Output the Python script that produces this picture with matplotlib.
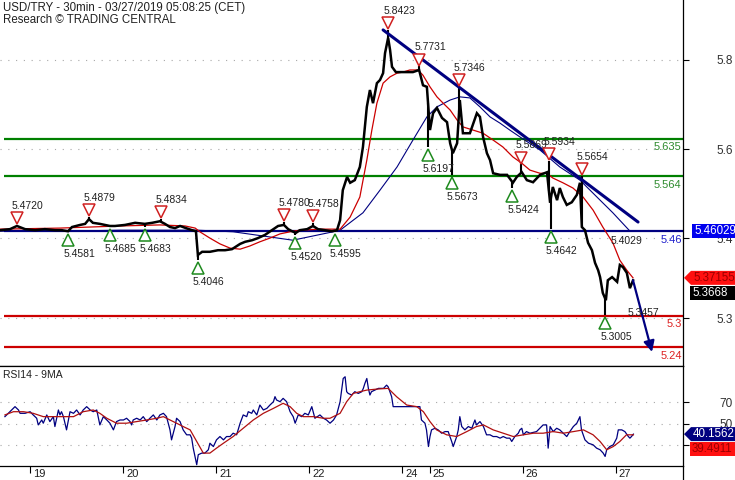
import numpy as np
import matplotlib
matplotlib.use('Agg')
import matplotlib.pyplot as plt
from matplotlib.patches import Polygon
from matplotlib.lines import Line2D
from matplotlib.transforms import blended_transform_factory, offset_copy

plt.rcParams['font.family'] = ['Liberation Sans', 'DejaVu Sans']

# ---------------- data ----------------
# time axis: trading hours since 19 Mar 00:00 (weekend removed)
day_hours = [0, 24, 48, 72, 96, 103, 127, 151]
day_labels = ['19', '20', '21', '22', '24', '25', '26', '27']

price_t = [-7.9, -5.3, -3.5, -1.4, 1.2, 3.7, 6.3, 8.1, 9.7, 10.7,
           12.8, 14.1, 15.1, 16.1, 17.9, 20.5, 21.8, 24.4, 27.0, 29.5,
           31.4, 33.4, 34.7, 36.0, 37.3, 38.6, 40.1, 41.7, 42.7, 43.2,
           44.3, 46.3, 48.4, 50.2, 52.0, 54.1, 55.4, 57.2, 58.7, 60.5,
           62.3, 63.9, 65.4, 66.5, 67.5, 68.5, 69.5, 71.4, 72.9, 74.2,
           76.0, 77.8, 79.1, 79.9, 80.6, 81.7, 82.5, 83.7, 85.0, 85.8,
           86.8, 87.6, 88.4, 89.4, 90.2, 91.0, 91.5, 92.3, 92.8, 93.3,
           94.3, 96.6, 98.7, 100.3, 101.3, 102.3, 103.1, 103.9, 104.9, 106.2,
           107.5, 108.3, 109.0, 110.1, 110.8, 111.6, 113.4, 115.2, 116.0, 116.8,
           117.8, 118.6, 119.4, 121.2, 123.0, 124.5, 125.5, 126.8, 128.1, 129.7,
           131.5, 133.3, 134.1, 134.8, 135.9, 136.6, 137.4, 138.4, 139.7, 141.0,
           141.8, 142.3, 143.1, 143.9, 144.9, 145.7, 146.5, 147.0, 147.7, 148.5,
           149.0, 150.1, 151.4, 152.1, 152.9, 153.9, 154.7, 155.5]
price_close = [5.462, 5.464, 5.470, 5.464, 5.462, 5.464, 5.462, 5.462, 5.460, 5.468,
               5.472, 5.474, 5.483, 5.476, 5.474, 5.470, 5.470, 5.472, 5.476, 5.474,
               5.476, 5.479, 5.474, 5.468, 5.466, 5.470, 5.466, 5.462, 5.460, 5.415,
               5.421, 5.421, 5.424, 5.424, 5.426, 5.436, 5.440, 5.443, 5.447, 5.453,
               5.462, 5.470, 5.472, 5.464, 5.460, 5.457, 5.462, 5.464, 5.470, 5.464,
               5.462, 5.460, 5.462, 5.481, 5.538, 5.563, 5.552, 5.557, 5.582, 5.620,
               5.696, 5.728, 5.703, 5.741, 5.747, 5.760, 5.798, 5.827, 5.804, 5.772,
               5.762, 5.762, 5.762, 5.766, 5.737, 5.734, 5.652, 5.684, 5.694, 5.675,
               5.667, 5.627, 5.608, 5.627, 5.709, 5.646, 5.646, 5.684, 5.677, 5.639,
               5.608, 5.595, 5.570, 5.567, 5.567, 5.552, 5.563, 5.572, 5.557, 5.553,
               5.567, 5.572, 5.514, 5.544, 5.519, 5.542, 5.525, 5.510, 5.515, 5.529,
               5.552, 5.468, 5.462, 5.438, 5.424, 5.400, 5.386, 5.373, 5.343, 5.329,
               5.367, 5.373, 5.364, 5.396, 5.392, 5.381, 5.352, 5.3668]

ma_red_t = [-7.9, 7.6, 23.1, 33.4, 39.9, 42.5, 43.7, 46.3, 48.9, 51.5, 54.1, 56.6, 59.2, 61.8,
            64.4, 67.0, 69.5, 74.7, 79.9, 82.5, 85.0, 86.8, 88.1, 89.4, 91.0, 92.8, 94.6, 96.1,
            97.9, 100.0, 101.3, 103.1, 104.9, 106.5, 108.3, 110.1, 111.6, 114.2, 116.8, 119.4,
            121.9, 124.5, 126.8, 128.9, 131.5, 133.3, 134.8, 137.4, 140.0, 142.6, 145.2, 147.7,
            150.3, 152.1, 153.9, 155.5]
ma_red = [5.464, 5.466, 5.470, 5.472, 5.470, 5.466, 5.459, 5.447, 5.436, 5.428, 5.426, 5.432, 5.440, 5.447,
          5.455, 5.459, 5.462, 5.464, 5.464, 5.487, 5.525, 5.595, 5.652, 5.703, 5.741, 5.753, 5.760, 5.762,
          5.766, 5.766, 5.756, 5.734, 5.715, 5.703, 5.690, 5.671, 5.658, 5.652, 5.646, 5.633,
          5.620, 5.601, 5.589, 5.576, 5.570, 5.570, 5.561, 5.552, 5.542, 5.525, 5.500, 5.468,
          5.438, 5.405, 5.386, 5.37155]

ma_blue_t = [-7.9, 7.6, 23.1, 41.2, 43.0, 52.3, 60.0, 67.7, 72.9, 78.1, 79.9, 85.8, 90.2, 94.6, 98.7,
             102.3, 104.9, 108.3, 110.8, 113.4, 116.0, 118.6, 121.2, 123.7, 126.3, 131.5, 136.6,
             141.8, 147.0, 150.3, 154.7]
ma_blue = [5.460, 5.460, 5.462, 5.462, 5.462, 5.459, 5.451, 5.443, 5.451, 5.459, 5.462, 5.495, 5.538, 5.582, 5.633,
           5.677, 5.696, 5.709, 5.715, 5.713, 5.696, 5.677, 5.665, 5.652, 5.639, 5.614, 5.582,
           5.557, 5.519, 5.495, 5.46029]

high_t = [-3.5, 15.1, 33.7, 65.4, 72.9, 92.3, 100.3, 110.6, 126.6, 133.8, 142.3]
high_p = [5.4720, 5.4879, 5.4834, 5.4780, 5.4758, 5.8423, 5.7731, 5.7346, 5.5869, 5.5934, 5.5654]
low_t = [9.7, 20.5, 29.5, 43.2, 68.3, 78.6, 102.6, 108.8, 124.3, 134.3, 148.3]
low_p = [5.4581, 5.4685, 5.4683, 5.4046, 5.4520, 5.4595, 5.6197, 5.5673, 5.5424, 5.4642, 5.3005]

levels = [5.635, 5.564, 5.46, 5.3, 5.24]
level_labels = ['5.635', '5.564', '5.46', '5.3', '5.24']
level_colors = ['#008000', '#008000', '#000080', '#cc0000', '#cc0000']
level_text_colors = ['#2e8b2e', '#2e8b2e', '#2020cc', '#dd2020', '#dd2020']

trend_t = [91.0, 156.8]
trend_p = [5.842, 5.4775]
target_t, target_p = 160.4, 5.231

extra_labels = [(153.9, 5.441, '5.4029'), (158.3, 5.305, '5.3457')]

rsi_t = [-6.6, -5.3, -4.0, -3.1, -2.7, -1.4, -0.1, 0.7, 1.6, 2.0,
         2.9, 3.3, 4.2, 5.0, 5.9, 6.3, 7.2, 7.6, 8.0, 8.5,
         9.3, 10.2, 11.1, 11.9, 12.8, 13.6, 14.5, 15.4, 16.2, 17.1,
         17.9, 18.8, 19.7, 20.5, 21.4, 22.2, 23.1, 24.0, 24.8, 25.7,
         26.1, 26.5, 27.4, 28.3, 29.1, 30.0, 30.8, 31.7, 32.6, 33.4,
         34.3, 35.1, 36.0, 36.4, 37.3, 37.7, 38.6, 39.4, 40.3, 41.2,
         41.6, 42.0, 42.9, 43.3, 44.2, 45.0, 45.9, 46.3, 47.2, 48.0,
         48.9, 49.8, 50.6, 51.5, 52.3, 53.2, 54.1, 54.9, 55.8, 56.2,
         57.1, 57.5, 58.4, 59.2, 60.1, 61.0, 61.8, 62.7, 63.1, 63.5,
         64.4, 65.2, 66.1, 67.0, 67.8, 68.3, 69.1, 70.0, 70.8, 71.7,
         72.6, 73.4, 74.7, 75.6, 76.4, 77.3, 78.2, 79.0, 79.9,
         80.7, 81.2, 81.6, 82.0, 82.9, 83.7, 84.6, 85.5, 85.9, 86.3,
         86.8, 87.2, 87.6, 88.0, 88.9, 89.8, 91.1, 91.9, 92.3, 93.2,
         93.6, 100.5, 100.9, 101.8, 102.2, 102.7, 103.1, 103.5, 104.4, 105.2,
         106.1, 107.0, 107.8, 108.7, 109.1, 110.0, 110.4, 110.8, 111.3, 112.1,
         113.0, 113.9, 114.7, 115.1, 116.0, 116.9, 117.7, 118.6, 119.4, 120.3,
         121.2, 122.0, 122.9, 123.7, 124.2, 125.0, 125.9, 126.3, 126.8, 127.2,
         128.0, 128.9, 130.6, 132.3, 133.2, 133.6, 134.1, 134.9, 135.8, 136.6,
         137.5, 138.4, 139.2, 140.1, 141.0, 141.8, 142.2, 143.1, 144.0, 145.2,
         146.1, 147.0, 147.8, 148.3, 148.7, 149.5, 150.4, 151.3, 151.7, 152.6,
         153.4, 154.3, 154.7, 155.1, 155.6]
rsi = [56.4, 61.0, 65.7, 62.6, 59.5, 59.5, 61.0, 58.0, 54.9, 48.7,
       53.3, 50.3, 58.0, 51.8, 56.4, 47.2, 62.6, 58.0, 61.0, 56.4,
       44.1, 61.0, 59.5, 62.6, 58.0, 62.6, 65.7, 62.6, 61.0, 62.6,
       48.7, 56.4, 53.3, 50.3, 44.1, 51.8, 53.3, 53.3, 54.9, 51.8,
       48.7, 53.3, 54.9, 53.3, 56.4, 51.8, 54.9, 58.0, 53.3, 58.0,
       59.5, 56.4, 44.1, 34.8, 47.2, 54.9, 51.8, 44.1, 39.5, 39.5,
       36.4, 27.1, 11.7, 21.0, 22.5, 22.5, 25.6, 31.7, 28.6, 34.8,
       37.9, 34.8, 37.9, 37.9, 41.0, 39.5, 50.3, 58.0, 56.4, 61.0,
       59.5, 62.6, 58.0, 67.2, 62.6, 64.1, 67.2, 70.3, 75.0, 71.9,
       70.3, 73.4, 70.3, 61.0, 56.4, 50.3, 58.0, 56.4, 59.5, 58.0,
       65.7, 54.9, 58.0, 54.9, 53.3, 50.3, 53.3, 58.0, 70.3,
       91.9, 93.5, 79.6, 78.0, 76.5, 79.6, 78.0, 79.6, 82.7, 87.3,
       91.9, 82.7, 76.5, 79.6, 81.1, 82.7, 82.7, 85.7, 84.2, 75.0,
       65.7, 65.7, 53.3, 50.3, 44.1, 28.6, 37.9, 44.1, 45.6, 44.1,
       41.0, 42.5, 42.5, 33.3, 28.6, 37.9, 44.1, 56.4, 47.2, 44.1,
       47.2, 45.6, 53.3, 48.7, 51.8, 47.2, 39.5, 39.5, 37.9, 37.9,
       36.4, 37.9, 36.4, 36.4, 33.3, 37.9, 41.0, 44.1, 45.6, 39.5,
       42.5, 41.0, 42.5, 48.7, 48.7, 27.1, 47.2, 42.5, 45.6, 44.1,
       41.0, 37.9, 42.5, 47.2, 50.3, 56.4, 44.1, 34.8, 31.7, 30.2,
       27.1, 25.6, 22.5, 19.4, 25.6, 28.6, 30.2, 36.4, 44.1, 44.1,
       42.5, 37.9, 36.4, 37.9, 40.1562]

rsi_ma_t = [-6.6, -4.4, -1.8, 0.7, 3.3, 5.9, 8.5, 11.1, 13.6, 16.2, 17.9, 19.7, 22.2, 24.8,
            27.4, 30.0, 32.6, 34.3, 36.0, 37.7, 39.4, 41.2, 42.9, 44.6, 46.3, 48.0, 49.8, 52.3,
            54.9, 57.5, 60.1, 62.7, 65.2, 67.0, 68.7, 70.4, 73.0, 75.6, 77.3, 79.9, 81.6, 83.3,
            85.0, 86.8, 89.3, 92.3, 94.5, 97.1, 99.7, 101.4, 103.1, 104.8, 107.4, 110.0, 112.6,
            115.1, 116.9, 119.4, 122.0, 124.6, 127.2, 129.8, 132.3, 134.9, 137.5, 140.1, 142.7,
            145.2, 147.0, 148.7, 150.4, 152.1, 153.8, 155.6]
rsi_ma = [58.0, 61.0, 61.0, 59.5, 56.4, 56.4, 56.4, 56.4, 61.0, 62.6, 59.5, 54.9, 50.3, 50.3,
          51.8, 53.3, 54.9, 56.4, 53.3, 50.3, 47.2, 44.1, 33.3, 22.5, 22.5, 27.1, 31.7, 37.9,
          45.6, 53.3, 59.5, 64.1, 68.8, 65.7, 59.5, 56.4, 56.4, 54.9, 54.9, 59.5, 70.3, 78.0,
          79.6, 81.1, 82.0, 82.7, 74.9, 67.2, 65.7, 61.0, 51.8, 44.1, 39.5, 37.9, 42.5,
          47.2, 48.7, 44.1, 41.0, 37.9, 39.5, 41.0, 41.0, 42.5, 41.0, 42.5, 44.1,
          39.5, 33.3, 25.6, 28.6, 33.3, 39.5, 39.4911]

last_blue = 5.46029
last_red = 5.37155
last_close = 5.3668
last_rsi = 40.1562
last_rsi_ma = 39.4911

price_ticks = [5.785, 5.616, 5.447, 5.295]
price_tick_labels = ['5.8', '5.6', '5.4', '5.3']
rsi_ticks = [70, 50, 30]
rsi_tick_labels = ['70', '50', '']

# ---------------- figure ----------------
W, H = 735, 480
fig = plt.figure(figsize=(W / 100, H / 100), dpi=100)
fig.patch.set_facecolor('white')
ax = fig.add_axes([0, 1 - 366 / H, 683 / W, 366 / H])
ax2 = fig.add_axes([0, 14 / H, 683 / W, 100 / H])

XMIN, XMAX = -7.87, 168.4
for a in (ax, ax2):
    a.set_xlim(XMIN, XMAX)
    a.set_facecolor('white')
    a.spines['left'].set_visible(False)
    for s in a.spines.values():
        s.set_linewidth(0.9)
ax.spines['top'].set_visible(False)
ax.set_ylim(5.2043, 5.8988)
ax2.set_ylim(10.5, 103.5)

navy = '#000080'
tick_col = '#303030'

# grid dots
dot = (0, (1, 6))
for v in price_ticks:
    ax.axhline(v, color='#a8a8a8', lw=0.8, ls=dot, zorder=0)
for v in rsi_ticks:
    ax2.axhline(v, color='#a8a8a8', lw=0.8, ls=dot, zorder=0)

# level lines
for lv, col in zip(levels, level_colors):
    ax.plot([-6.8, XMAX], [lv, lv], color=col, lw=1.6, zorder=2, solid_capstyle='butt')
yt = blended_transform_factory(ax.transAxes, ax.transData)
for lv, lab, tc in zip(levels, level_labels, level_text_colors):
    ax.annotate(lab, xy=(1, lv), xycoords=yt, xytext=(-1, -6), textcoords='offset points',
                ha='right', va='center', fontsize=8, color=tc, zorder=6)

# moving averages
ax.plot(ma_blue_t, ma_blue, color=navy, lw=0.8, zorder=3)
ax.plot(ma_red_t, ma_red, color='#cc0000', lw=0.9, zorder=3)

# price
ax.plot(price_t, price_close, color='black', lw=1.8, zorder=4, solid_joinstyle='miter')
close_at_high = np.interp(high_t, price_t, price_close)
close_at_low = np.interp(low_t, price_t, price_close)
ax.vlines(high_t, close_at_high, high_p, color='black', lw=1.5, zorder=4)
ax.vlines(low_t, low_p, close_at_low, color='black', lw=1.5, zorder=4)

# trend line & projection arrow
ax.plot(trend_t, trend_p, color=navy, lw=2.2, zorder=5, solid_capstyle='round')
ax.annotate('', xy=(target_t, target_p), xytext=(price_t[-1], price_close[-1]),
            arrowprops=dict(arrowstyle='-|>', color=navy, lw=1.6, mutation_scale=16,
                            shrinkA=0, shrinkB=0), zorder=6)

# pivots
for t, p in zip(high_t, high_p):
    ax.plot([t], [p], marker='v', ms=8.5, mfc='white', mec='#d02020', mew=1.1,
            transform=offset_copy(ax.transData, fig=fig, y=6.5, units='dots'), zorder=7)
    ax.text(t, p, f'{p:.4f}', fontsize=7.5, color='#202020', ha='left', va='center',
            transform=offset_copy(ax.transData, fig=fig, x=-5, y=19, units='dots'), zorder=7)
for t, p in zip(low_t, low_p):
    ax.plot([t], [p], marker='^', ms=8.5, mfc='white', mec='#1e8a1e', mew=1.1,
            transform=offset_copy(ax.transData, fig=fig, y=-8, units='dots'), zorder=7)
    ax.text(t, p, f'{p:.4f}', fontsize=7.5, color='#202020', ha='left', va='center',
            transform=offset_copy(ax.transData, fig=fig, x=-5, y=-22, units='dots'), zorder=7)
for t, p, s in extra_labels:
    ax.text(t, p, s, fontsize=7.5, color='#202020', ha='center', va='center', zorder=7)

# RSI
ax2.plot(rsi_t, rsi, color=navy, lw=0.9, zorder=3)
ax2.plot(rsi_ma_t, rsi_ma, color='#b01010', lw=0.9, zorder=3)
ax2.text(0.005, 0.91, 'RSI14 - 9MA', transform=ax2.transAxes, fontsize=7.5,
         color='#202020', ha='left', va='center')

# axes ticks
ax.set_xticks([])
ax.yaxis.tick_right()
ax.set_yticks(price_ticks)
ax.set_yticklabels(price_tick_labels)
ax2.yaxis.tick_right()
ax2.set_yticks(rsi_ticks)
ax2.set_yticklabels(rsi_tick_labels)
for a in (ax, ax2):
    a.tick_params(axis='y', direction='out', length=4, width=0.8, pad=32, labelsize=8.5,
                  labelcolor=tick_col)
    for lbl in a.get_yticklabels():
        lbl.set_ha('right')
ax2.set_xticks(day_hours)
ax2.set_xticklabels([])
ax2.tick_params(axis='x', direction='out', length=5, width=0.8)
xt = blended_transform_factory(ax2.transData, fig.transFigure)
for h, lab in zip(day_hours, day_labels):
    ax2.text(h, 1 - 474 / H, lab, transform=offset_copy(xt, fig=fig, x=3, units='dots'),
             fontsize=8, color='#202020', ha='left', va='center', clip_on=False)

# right axis line continues to bottom
fig.add_artist(Line2D([683 / W, 683 / W], [0, 14 / H], color='black', lw=0.9,
                      transform=fig.transFigure))

# title
fig.text(3 / W, 1 - 8 / H, 'USD/TRY - 30min - 03/27/2019 05:08:25 (CET)', fontsize=8.3,
         color='#202020', ha='left', va='center')
fig.text(3 / W, 1 - 20 / H, 'Research \u00a9 TRADING CENTRAL', fontsize=8.3,
         color='#202020', ha='left', va='center')

# value boxes in right margin
inv = fig.transFigure.inverted()


def fy(axis, val):
    return inv.transform(axis.transData.transform((0, val)))[1] * H


def value_box(yc, text, fc, tc, arrow=False, x0=691):
    hh = 7
    if arrow:
        pts = [(684, yc), (x0, yc + hh), (W, yc + hh), (W, yc - hh), (x0, yc - hh)]
    else:
        pts = [(x0, yc + hh), (W, yc + hh), (W, yc - hh), (x0, yc - hh)]
    pts = [(x / W, y / H) for x, y in pts]
    fig.add_artist(Polygon(pts, closed=True, fc=fc, ec='none', transform=fig.transFigure,
                           zorder=10))
    fig.text((x0 + 2) / W, yc / H, text, fontsize=8.3, color=tc, ha='left', va='center',
             zorder=11)


yb = fy(ax, last_blue)
value_box(yb, f'{last_blue:.5f}', '#0000ee', 'white', x0=692)
yr = fy(ax, last_red)
value_box(yr, f'{last_red:.5f}', '#ff1010', '#9a0000', arrow=True)
value_box(yr - 15, f'{last_close:.4f}', 'black', 'white', x0=690)
yrs = fy(ax2, last_rsi)
value_box(yrs, f'{last_rsi:.4f}', navy, 'white', arrow=True)
value_box(yrs - 15, f'{last_rsi_ma:.4f}', '#ff1010', '#9a0000', x0=690)

fig.savefig('out.png', dpi=100)
